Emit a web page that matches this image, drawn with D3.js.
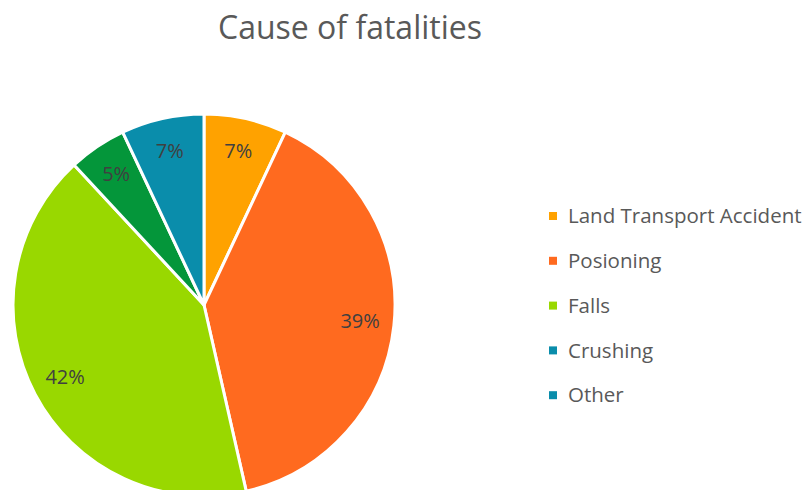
<!DOCTYPE html>
<html>
<head>
<meta charset="utf-8">
<script src="https://cdn.jsdelivr.net/npm/d3@7"></script>
<style>
  body { margin: 0; background: #fff; }
  svg { display: block; font-family: "Open Sans", sans-serif; }
</style>
</head>
<body>
<svg id="svg" width="807" height="490"></svg>
<script>
// chart data (percent shares)
var categories = ["Land Transport Accident", "Posioning", "Falls", "Crushing", "Other"];
var values = [7.0, 39.45, 41.65, 4.9, 7.0];
var sliceColors = ["#ffa200", "#ff6a1f", "#99d800", "#04963a", "#0a8dab"];
var legendColors = ["#ffa200", "#ff6a1f", "#99d800", "#0a8dab", "#0a8dab"];
var title = "Cause of fatalities";

var svg = d3.select("#svg");
var cx = 204, cy = 305, radius = 191;

svg.append("text")
  .attr("x", 350)
  .attr("y", 39)
  .attr("text-anchor", "middle")
  .style("font-size", "32px")
  .style("fill", "#595959")
  .text(title);

var pie = d3.pie().sort(null).value(d => d);
var arcs = pie(values);
var arc = d3.arc().innerRadius(0).outerRadius(radius);
var labelArc = d3.arc().innerRadius(157).outerRadius(157);

var g = svg.append("g").attr("transform", `translate(${cx},${cy})`);

g.selectAll("path")
  .data(arcs)
  .enter()
  .append("path")
  .attr("d", arc)
  .attr("fill", (d, i) => sliceColors[i])
  .attr("stroke", "#fff")
  .attr("stroke-width", 3)
  .attr("stroke-linejoin", "round");

// percentage labels
g.selectAll(".lbl")
  .data(arcs)
  .enter()
  .append("text")
  .attr("class", "lbl")
  .attr("transform", d => `translate(${labelArc.centroid(d)})`)
  .attr("text-anchor", "middle")
  .attr("dy", "0.3em")
  .style("font-size", "20px")
  .style("fill", "#404040")
  .text(d => Math.round(d.data) + "%");

// legend
var legend = svg.append("g").attr("transform", "translate(549,216)");
var row = legend.selectAll("g")
  .data(categories)
  .enter()
  .append("g")
  .attr("transform", (d, i) => `translate(0,${i * 44.8})`);

row.append("rect")
  .attr("x", 0)
  .attr("y", -4)
  .attr("width", 8)
  .attr("height", 8)
  .attr("fill", (d, i) => legendColors[i]);

row.append("text")
  .attr("x", 19)
  .attr("dy", "0.35em")
  .style("font-size", "20.5px")
  .style("fill", "#595959")
  .text(d => d);
</script>
</body>
</html>
